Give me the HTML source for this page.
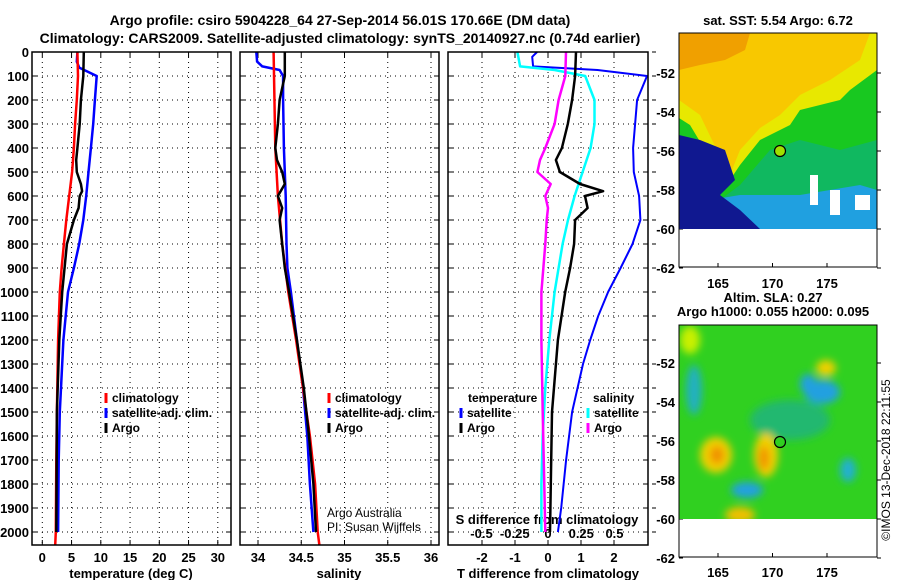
<!DOCTYPE html>
<html><head><meta charset="utf-8"><style>
body{margin:0;background:#fff}
svg{display:block;font-family:"Liberation Sans",Arial,sans-serif}
.b{font-weight:bold;font-size:13px}
.t{font-weight:bold;font-size:14px}
</style></head><body>
<svg id="c" width="900" height="580" viewBox="0 0 900 580">
<defs><filter id="bl" x="-50%" y="-50%" width="200%" height="200%"><feGaussianBlur stdDeviation="4"/></filter>
<clipPath id="m1"><rect x="679" y="33" width="198" height="196"/></clipPath>
<clipPath id="m2"><rect x="679" y="325" width="198" height="194"/></clipPath></defs>
<text class="t" x="340" y="25" text-anchor="middle">Argo profile: csiro 5904228_64 27-Sep-2014 56.01S 170.66E (DM data)</text>
<text class="t" x="340" y="43" text-anchor="middle">Climatology: CARS2009. Satellite-adjusted climatology: synTS_20140927.nc (0.74d earlier)</text>
<g id="plots"></g>
<g>
<text class="b" x="778" y="25" text-anchor="middle">sat. SST: 5.54 Argo: 6.72</text>
<g clip-path="url(#m1)">
<rect x="679" y="33" width="198" height="196" fill="#18c820"/>
<polygon points="679,33 877,33 877,70 850,90 840,100 800,110 790,125 760,140 740,165 730,180 720,172 705,150 690,125 679,118" fill="#e8e800"/>
<polygon points="679,33 870,33 860,60 830,80 800,95 780,115 760,128 740,150 732,170 722,160 712,140 700,115 679,100" fill="#f8c800"/>
<polygon points="679,33 750,33 745,50 725,60 700,65 679,70" fill="#f0a000"/>
<polygon points="770,150 800,140 840,150 877,140 877,229 679,229 679,200 720,200 740,185" fill="#10b860"/>
<polygon points="740,195 800,195 860,185 877,190 877,229 679,229 679,205" fill="#20a0e0"/>
<polygon points="679,135 700,140 725,150 735,180 720,195 740,210 760,229 679,229" fill="#101890"/>
<rect x="810" y="175" width="8" height="30" fill="#fff"/><rect x="830" y="190" width="10" height="25" fill="#fff"/><rect x="855" y="195" width="15" height="15" fill="#fff"/>
</g>
<circle cx="780" cy="151" r="5.5" fill="#a0e000" stroke="#000" stroke-width="1.2"/>
<rect x="679" y="33" width="198" height="234" fill="none" stroke="#000"/>
</g>
<g>
<text class="b" x="773" y="302" text-anchor="middle">Altim. SLA: 0.27</text>
<text class="b" x="773" y="316" text-anchor="middle">Argo h1000: 0.055 h2000: 0.095</text>
<g clip-path="url(#m2)">
<rect x="679" y="325" width="198" height="194" fill="#30d020"/>
<g filter="url(#bl)">
<ellipse cx="790" cy="420" rx="40" ry="20" fill="#20b870"/>
<ellipse cx="716" cy="455" rx="16" ry="18" fill="#f0d000"/>
<ellipse cx="766" cy="455" rx="12" ry="22" fill="#f0d000"/>
<ellipse cx="717" cy="455" rx="7" ry="9" fill="#f09000"/>
<ellipse cx="764" cy="458" rx="5" ry="12" fill="#f09000"/>
<ellipse cx="740" cy="515" rx="15" ry="8" fill="#f0c000"/>
<ellipse cx="822" cy="392" rx="18" ry="12" fill="#20a0e0"/>
<ellipse cx="808" cy="384" rx="8" ry="10" fill="#20a0e0"/>
<ellipse cx="747" cy="490" rx="16" ry="8" fill="#20a0e0"/>
<ellipse cx="694" cy="390" rx="8" ry="25" fill="#20b0c0"/>
<ellipse cx="848" cy="470" rx="8" ry="12" fill="#20b0d0"/>
<ellipse cx="690" cy="340" rx="10" ry="14" fill="#c8f000"/>
<ellipse cx="826" cy="368" rx="10" ry="8" fill="#f0d000"/>
</g></g>
<circle cx="780" cy="442" r="5.5" fill="#30d020" stroke="#000" stroke-width="1.2"/>
<rect x="679" y="325" width="198" height="232" fill="none" stroke="#000"/>
</g>
<text x="890" y="460" font-size="12" text-anchor="middle" transform="rotate(-90 890 460)">©IMOS 13-Dec-2018 22:11:55</text>
<text x="327" y="517" font-size="12">Argo Australia</text>
<text x="327" y="531" font-size="12">PI: Susan Wijffels</text>
</svg>
<script>
const tClimDepth=[0,100,200,300,400,500,600,700,800,900,1000,1200,1500,1700,2000,2055];
const tClim=[6.0,6.1,5.9,5.6,5.4,5.1,4.6,4.1,3.7,3.3,3.0,2.7,2.5,2.4,2.3,2.2];
const tSatDepth=[0,40,65,100,200,300,400,500,600,700,800,900,1000,1200,1500,1700,2000];
const tSat=[6.0,5.9,6.3,9.3,9.0,8.7,8.3,7.9,7.5,7.0,6.3,5.4,4.4,3.6,3.0,2.8,2.7];
const tArgoDepth=[0,100,200,300,400,450,500,550,580,600,650,700,800,1000,1200,1500,2000];
const tArgo=[7.1,7.0,6.6,6.4,6.0,5.8,5.9,6.6,6.8,6.4,6.2,5.4,4.2,3.4,2.9,2.5,2.4];
const sClimDepth=[0,400,600,800,1000,1200,1400,1600,1800,2000,2055];
const sClim=[34.18,34.2,34.23,34.28,34.35,34.44,34.52,34.6,34.66,34.69,34.71];
const sSatDepth=[0,40,60,75,100,200,400,600,800,900,1000,1200,1400,1600,1800,2000];
const sSat=[33.98,33.99,34.05,34.25,34.29,34.29,34.3,34.32,34.33,34.34,34.38,34.45,34.52,34.57,34.6,34.64];
const sArgoDepth=[0,100,200,300,400,450,500,550,600,650,700,800,900,1000,1200,1400,1600,1800,2000];
const sArgo=[34.31,34.31,34.25,34.23,34.2,34.22,34.28,34.31,34.23,34.28,34.25,34.28,34.31,34.36,34.45,34.53,34.59,34.64,34.67];
const dTSatDepth=[0,20,60,75,100,200,300,400,500,600,700,800,900,1000,1100,1200,1300,1500,1700,1900,2000];
const dTSat=[-0.33,-0.48,-0.45,1.5,3.0,2.7,2.64,2.58,2.6,2.76,2.8,2.56,2.2,1.82,1.52,1.28,1.06,0.73,0.55,0.4,0.3];
const dTArgoDepth=[0,100,200,300,400,450,500,550,580,600,650,700,800,900,1000,1200,1500,2000];
const dTArgo=[0.85,0.82,0.73,0.6,0.42,0.24,0.36,0.97,1.67,1.12,1.2,0.82,0.79,0.67,0.52,0.3,0.12,0.06];
const dSSatDepth=[0,60,75,100,200,300,400,500,600,700,800,1000,1200,1400,1600,1800,2000];
const dSSat=[-0.23,-0.21,0.05,0.28,0.35,0.35,0.32,0.26,0.2,0.15,0.11,0.05,0.01,-0.02,-0.04,-0.05,-0.05];
const dSArgoDepth=[0,100,200,300,400,450,500,550,600,650,700,800,1000,1200,1500,2000];
const dSArgo=[0.135,0.13,0.08,0.05,-0.02,-0.06,-0.08,0.02,-0.02,0.0,-0.01,-0.02,-0.05,-0.05,-0.04,-0.02];
const depthTicks=[0,100,200,300,400,500,600,700,800,900,1000,1100,1200,1300,1400,1500,1600,1700,1800,1900,2000];
const tTicks=[0,5,10,15,20,25,30];
const sTicks=[34,34.5,35,35.5,36];
const sTickLabels=["34","34.5","35","35.5","36"];
const dTTicks=[-2,-1,0,1,2];
const dSTicks=[-0.5,-0.25,0,0.25,0.5];
const dSTickLabels=["-0.5","-0.25","0","0.25","0.5"];
const NS="http://www.w3.org/2000/svg";
const g=document.getElementById('plots');
const TOP=52,BOT=545;
const yD=d=>52+d*0.24;
const xT=v=>42.3+v*5.85;
const xS=v=>258+(v-34)*86.5;
const xDT=v=>548+v*33;
const xDS=v=>548+v*133;
function el(tag,at,parent){const e=document.createElementNS(NS,tag);for(const k in at)e.setAttribute(k,at[k]);(parent||g).appendChild(e);return e;}
function line(x1,y1,x2,y2,at){return el('line',Object.assign({x1,y1,x2,y2,stroke:'#000'},at||{}));}
function txt(x,y,s,at){const e=el('text',Object.assign({x,y,'font-weight':'bold','font-size':13},at||{}));e.textContent=s;return e;}
function panel(x0,x1,name){
  const grp=el('g',{});
  
  
  depthTicks.forEach(d=>{if(d>0){line(x0,yD(d),x1,yD(d),{'stroke-dasharray':'1,4','stroke-width':1});}
    line(x0,yD(d),x0+5,yD(d));line(x1-5,yD(d),x1,yD(d));});
  return grp;
}
function vgrid(x){line(x,TOP,x,BOT,{'stroke-dasharray':'1,4'});line(x,BOT-5,x,BOT);line(x,TOP,x,TOP+5);}
function series(xs,ds,fx,color,name,w){
  const p=el('polyline',{points:xs.map((v,i)=>fx(v).toFixed(1)+','+yD(ds[i]).toFixed(1)).join(' '),fill:'none',stroke:color,'stroke-width':w||2.5,'stroke-linejoin':'round'});
  
  
}
function legend(x,y,color,label){
  line(x,y-9,x,y+1,{stroke:color,'stroke-width':3});
  const t=txt(x+6,y,label,{'font-size':12});
  
  
}
panel(32,231,'temperature-panel');
tTicks.forEach(v=>{vgrid(xT(v));txt(xT(v),562,String(v),{'text-anchor':'middle'});});
depthTicks.forEach(d=>{txt(29,yD(d)+5,String(d),{'text-anchor':'end'});});
txt(131,578,'temperature (deg C)',{'text-anchor':'middle'});
series(tSat,tSatDepth,xT,'#0000ff','temp-satellite-line');
series(tClim,tClimDepth,xT,'#ff0000','temp-climatology-line');
series(tArgo,tArgoDepth,xT,'#000','temp-argo-line');
el('rect',{x:32,y:52,width:199,height:493,fill:'none',stroke:'#000','stroke-width':1.5});
legend(106,402,'#ff0000','climatology');legend(106,417,'#0000ff','satellite-adj. clim.');legend(106,432,'#000','Argo');
panel(240,439,'salinity-panel');
sTicks.forEach((v,i)=>{vgrid(xS(v));txt(xS(v),562,sTickLabels[i],{'text-anchor':'middle'});});
txt(339,578,'salinity',{'text-anchor':'middle'});
series(sSat,sSatDepth,xS,'#0000ff','sal-satellite-line');
series(sClim,sClimDepth,xS,'#ff0000','sal-climatology-line');
series(sArgo,sArgoDepth,xS,'#000','sal-argo-line');
el('rect',{x:240,y:52,width:199,height:493,fill:'none',stroke:'#000','stroke-width':1.5});
legend(329,402,'#ff0000','climatology');legend(329,417,'#0000ff','satellite-adj. clim.');legend(329,432,'#000','Argo');
panel(448,648,'difference-panel');
dTTicks.forEach(v=>{vgrid(xDT(v));txt(xDT(v),562,String(v),{'text-anchor':'middle'});});
dSTicks.forEach((v,i)=>{txt(xDS(v),538,dSTickLabels[i],{'text-anchor':'middle'});});
depthTicks.forEach(d=>line(652,yD(d),656,yD(d)));
txt(548,578,'T difference from climatology',{'text-anchor':'middle'});
txt(547,524,'S difference from climatology',{'text-anchor':'middle'});
series(dTSat,dTSatDepth,xDT,'#0000ff','dt-satellite-line',2);
series(dSSat,dSSatDepth,xDS,'#00ffff','ds-satellite-line',2.5);
series(dSArgo,dSArgoDepth,xDS,'#ff00ff','ds-argo-line',2.5);
series(dTArgo,dTArgoDepth,xDT,'#000','dt-argo-line',2.5);
el('rect',{x:448,y:52,width:200,height:493,fill:'none',stroke:'#000','stroke-width':1.5});
txt(468,402,'temperature',{'font-size':12});
txt(593,402,'salinity',{'font-size':12});
legend(461,417,'#0000ff','satellite');legend(461,432,'#000','Argo');
legend(588,417,'#00ffff','satellite');legend(588,432,'#ff00ff','Argo');
const lonTicks=[165,170,175];
const latTicks=[-52,-54,-56,-58,-60,-62];
const xLon=l=>718+(l-165)*10.9;
const yLat1=a=>73+(-52-a)*19.5;
const yLat2=a=>363+(-52-a)*19.5;
lonTicks.forEach(l=>{txt(xLon(l),288,String(l),{'text-anchor':'middle'});txt(xLon(l),577,String(l),{'text-anchor':'middle'});
  line(xLon(l),33,xLon(l),37);line(xLon(l),263,xLon(l),267);line(xLon(l),325,xLon(l),329);line(xLon(l),553,xLon(l),557);});
latTicks.forEach(a=>{txt(675,yLat1(a)+5,String(a),{'text-anchor':'end'});txt(675,yLat2(a)+5,String(a),{'text-anchor':'end'});
  line(877,yLat1(a),881,yLat1(a));line(877,yLat2(a),881,yLat2(a));line(679,yLat1(a),683,yLat1(a));line(679,yLat2(a),683,yLat2(a));});
</script>
</body></html>
